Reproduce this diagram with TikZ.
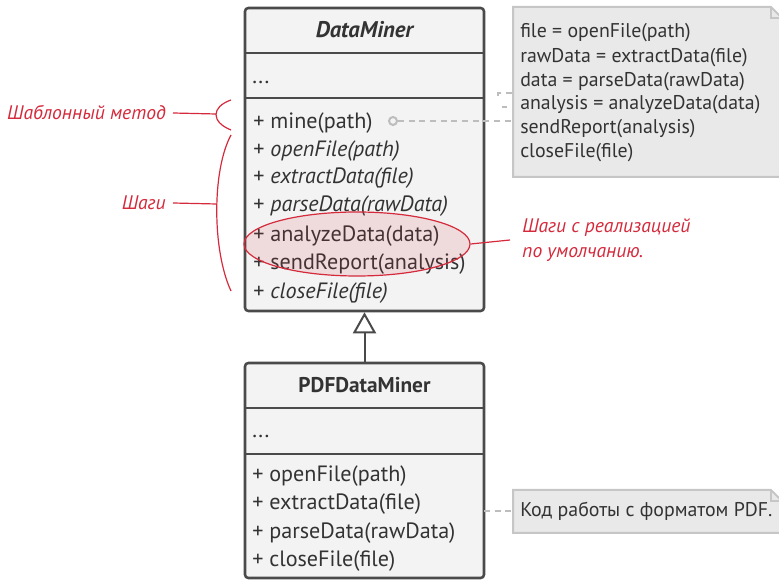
\documentclass[tikz,border=0pt]{standalone}
\usepackage{fontspec}
\setmainfont{PT Sans}
\usetikzlibrary{arrows.meta,fit,shapes.geometric}
\definecolor{boxfill}{HTML}{F3F3F3}
\definecolor{boxline}{HTML}{4A4A4A}
\definecolor{txt}{HTML}{333333}
\definecolor{notefill}{HTML}{E9E9E9}
\definecolor{noteline}{HTML}{C6C6C6}
\definecolor{redc}{HTML}{D42A3C}
\definecolor{dashc}{HTML}{BDBDBD}
\begin{document}
\begin{tikzpicture}[x=0.75pt,y=-0.75pt,
  umlbox/.style={draw=boxline, fill=boxfill, line width=1.9pt, rounded corners=2.5pt, inner sep=0pt},
  sepline/.style={draw=boxline, line width=1.9pt},
  clstitle/.style={font=\fontsize{16}{19}\selectfont\bfseries, text=txt, inner sep=0pt},
  member/.style={anchor=base west, font=\fontsize{16.6}{20}\selectfont, text=txt, inner sep=0pt},
  notebox/.style={draw=noteline, fill=notefill, line width=1.5pt},
  notetxt/.style={anchor=base west, font=\fontsize{14.9}{18}\selectfont, text=txt, inner sep=0pt},
  annot/.style={font=\fontsize{14.7}{18}\selectfont\itshape, text=redc},
  redline/.style={draw=redc, line width=0.9pt},
  dashline/.style={draw=dashc, line width=1.5pt, dash pattern=on 4.5pt off 3.5pt},
]
\useasboundingbox (0,0) rectangle (779,580);

% ---------- DataMiner ----------
\node[umlbox, fit={(245,8) (484,311)}] (dm) {};
\draw[sepline] (245,53) -- (484,53);
\draw[sepline] (245,98) -- (484,98);
\node[clstitle, font=\fontsize{17}{20}\selectfont\bfseries\itshape] (dmtitle) at (364.5,30) {DataMiner};
\node[member] (dmattr) at (252,84) {...};
\node[member] (m1) at (253,129) {+ mine(path)};
\node[member] (m2) at (253,157) {+ \textit{openFile(path)}};
\node[member] (m3) at (253,184) {+ \textit{extractData(file)}};
\node[member] (m4) at (253,212) {+ \textit{parseData(rawData)}};
\node[member] (m5) at (253,242) {+ analyzeData(data)};
\node[member] (m6) at (253,270) {+ sendReport(analysis)};
\node[member] (m7) at (253,299) {+ \textit{closeFile(file)}};

% highlight of default steps
\node[ellipse, draw=redc, line width=0.9pt, fill=redc, fill opacity=0.12, draw opacity=1,
      minimum width=169.5pt, minimum height=48pt, inner sep=0pt] (hl) at (357,244) {};

% ---------- PDFDataMiner ----------
\node[umlbox, fit={(245,363) (484,578)}] (pdf) {};
\draw[sepline] (245,408) -- (484,408);
\draw[sepline] (245,454) -- (484,454);
\node[clstitle] (pdftitle) at (364.5,385) {PDFDataMiner};
\node[member] (pdfattr) at (252,438) {...};
\node[member] (p1) at (252,482) {+ openFile(path)};
\node[member] (p2) at (252,510) {+ extractData(file)};
\node[member] (p3) at (252,539) {+ parseData(rawData)};
\node[member] (p4) at (252,567) {+ closeFile(file)};

% inheritance
\draw[draw=boxline, line width=1.5pt,
      -{Triangle[length=15.75pt, width=17.25pt, fill=white, line width=1.5pt]}]
  (pdf.north) -- (dm.south);

% ---------- Note 1 ----------
\draw[notebox] (513,7) -- (771,7) -- (782,18) -- (782,177) -- (513,177) -- cycle;
\draw[notebox, fill=none] (771,7) -- (771,18) -- (782,18);
\coordinate (n1w) at (513,121);
\node[notetxt] (t1) at (520,38) {file = openFile(path)};
\node[notetxt] (t2) at (520,63) {rawData = extractData(file)};
\node[notetxt] (t3) at (520,87) {data = parseData(rawData)};
\node[notetxt] (t4) at (520,110) {analysis = analyzeData(data)};
\node[notetxt] (t5) at (520,134) {sendReport(analysis)};
\node[notetxt] (t6) at (520,158) {closeFile(file)};

\node[circle, draw=dashc, line width=1.5pt, minimum size=6pt, inner sep=0pt] (dot) at (393,121) {};
\draw[dashline] (dot.east) -- (n1w);
\draw[dashline] (512,93) -- (498,93) -- (498,100);
\draw[dashline] (502,107) -- (507,107);

% ---------- Note 2 ----------
\draw[notebox] (513,490) -- (771,490) -- (782,501) -- (782,533) -- (513,533) -- cycle;
\draw[notebox, fill=none] (771,490) -- (771,501) -- (782,501);
\coordinate (n2w) at (513,511);
\node[notetxt, anchor=base west] (t7) at (520,517) {Код работы с форматом PDF.};
\coordinate (pdfe) at (484,511);
\draw[dashline] (pdfe) -- (n2w);

% ---------- annotations ----------
\node[annot, anchor=east, inner sep=0pt] (tmlbl) at (166,113) {Шаблонный метод};
\coordinate (br1) at (216,114);
\draw[redline] (231,100) .. controls (211,107) and (211,122) .. (231,130);
\draw[redline] (tmlbl.east) ++(7,0) -- (br1);

\node[annot, anchor=east, inner sep=0pt] (stlbl) at (166,203) {Шаги};
\coordinate (br2) at (216.5,204);
\draw[redline] (231,135) .. controls (212,170) and (212,250) .. (231,291);
\draw[redline] (stlbl.east) ++(7,0) -- (br2);

\node[annot, anchor=west, align=left, inner sep=0pt, font=\fontsize{14.7}{19}\selectfont\itshape] (deflbl) at (522,240) {Шаги с реализацией\\по умолчанию.};
\draw[redline] (hl.east) -- ([xshift=-9pt]deflbl.west);

\end{tikzpicture}
\end{document}
